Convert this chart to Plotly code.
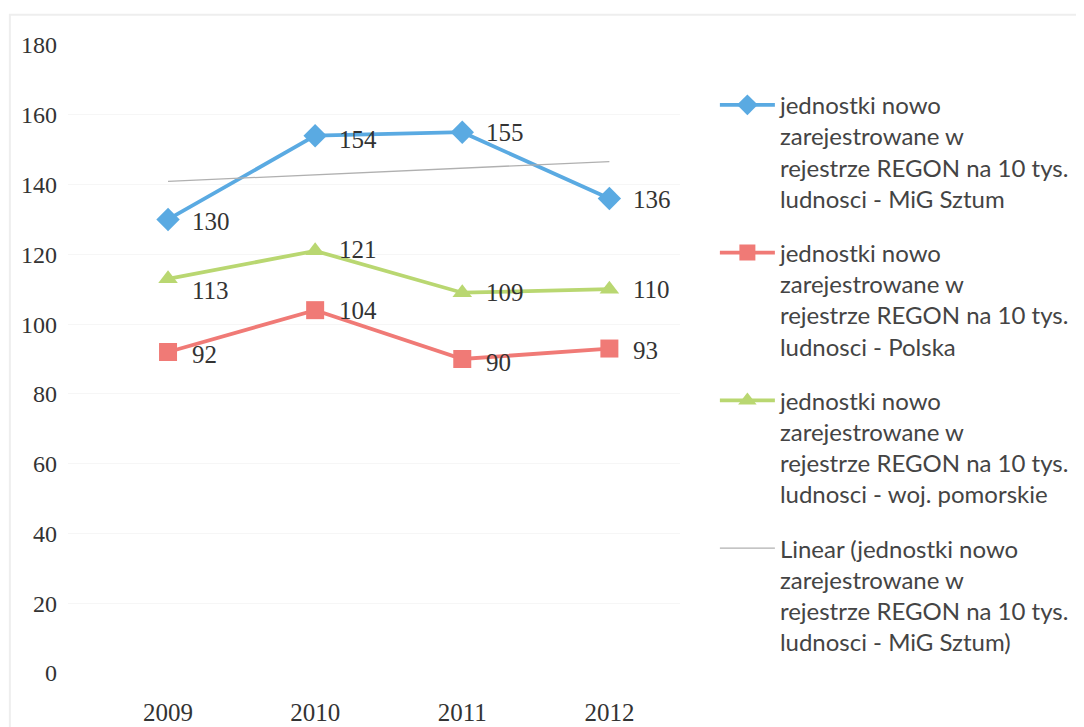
import numpy as np
import plotly.graph_objects as go

years = ["2009", "2010", "2011", "2012"]
mig_sztum = [130, 154, 155, 136]
polska = [92, 104, 90, 93]
pomorskie = [113, 121, 109, 110]

name_mig = "jednostki nowo<br>zarejestrowane w<br>rejestrze REGON na 10 tys.<br>ludnosci - MiG Sztum"
name_pl = "jednostki nowo<br>zarejestrowane w<br>rejestrze REGON na 10 tys.<br>ludnosci - Polska"
name_pom = "jednostki nowo<br>zarejestrowane w<br>rejestrze REGON na 10 tys.<br>ludnosci - woj. pomorskie"
name_trend = "Linear (jednostki nowo<br>zarejestrowane w<br>rejestrze REGON na 10 tys.<br>ludnosci - MiG Sztum)"

idx = np.arange(len(years))
slope, intercept = np.polyfit(idx, mig_sztum, 1)
trend = list(intercept + slope * idx)

label_font = dict(family="Liberation Serif", size=25, color="#333333")
tick_font = dict(family="Liberation Serif", size=24, color="#333333")
xtick_font = dict(family="Liberation Serif", size=25, color="#333333")

series = [
    (mig_sztum, name_mig, "#5aaae2", "diamond", 18, [-2, -4, 0, -1]),
    (polska, name_pl, "#f07a76", "square", 18, [-2, 0, -3, -2]),
    (pomorskie, name_pom, "#b9d771", "triangle-up", 17, [-12, 1, 0, 0]),
]

fig = go.Figure()
annotations = []
for i, (vals, name, color, sym, msize, yshifts) in enumerate(series):
    fig.add_trace(go.Scatter(
        x=years, y=vals, name=name, mode="lines+markers", legendgroup=f"g{i}",
        line=dict(color=color, width=3.8),
        marker=dict(symbol=sym, size=msize, color=color)))
    for k, (v, ys) in enumerate(zip(vals, yshifts)):
        annotations.append(dict(x=k, y=v, xref="x", yref="y", text=str(v),
                                showarrow=False, xanchor="left", yanchor="middle",
                                xshift=22, yshift=ys, font=label_font))

fig.add_trace(go.Scatter(
    x=years, y=trend, name=name_trend, mode="lines", legendgroup="g3",
    line=dict(color="#b0b0b0", width=1.3)))

fig.update_layout(
    width=1084, height=727,
    paper_bgcolor="white", plot_bgcolor="white",
    margin=dict(l=60, r=412, t=37, b=62),
    font=dict(family="Lato", size=20, color="#444444"),
    xaxis=dict(type="category", range=[-0.68, 3.48], showgrid=False,
               showline=False, zeroline=False, ticks="", tickfont=xtick_font,
               ticklabelstandoff=22, automargin=False),
    yaxis=dict(range=[0, 180], dtick=20, showgrid=True, gridcolor="#f6f6f6",
               gridwidth=1, zeroline=False, showline=False, ticks="",
               ticklabelstandoff=10, tickfont=tick_font, automargin=False),
    legend=dict(x=1.057, y=0.94, xanchor="left", yanchor="top",
                font=dict(family="Lato", size=24, color="#444444"),
                tracegroupgap=20, itemwidth=55, valign="top",
                bgcolor="rgba(0,0,0,0)"),
    showlegend=True,
    annotations=annotations,
)
fig.add_shape(type="rect", xref="paper", yref="paper",
              x0=-0.095, x1=1.66, y0=-0.15, y1=1.048,
              line=dict(color="#eeeeee", width=2))

fig.write_html("out.html")
